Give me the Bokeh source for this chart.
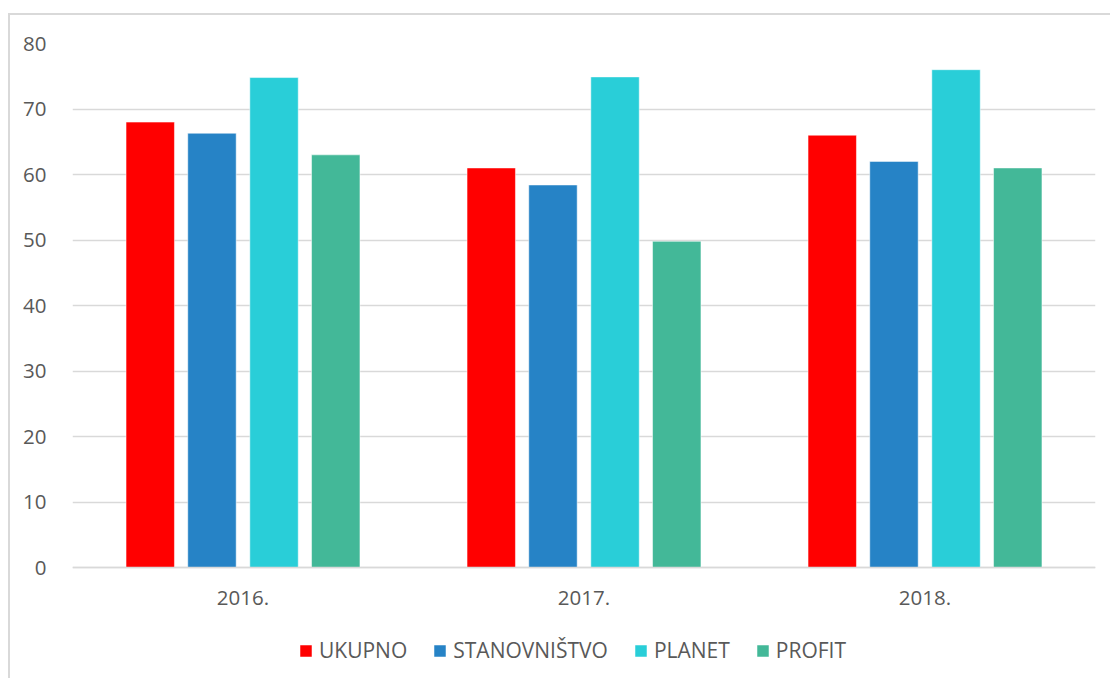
from bokeh.plotting import figure
from bokeh.models import ColumnDataSource, FactorRange, Range1d, Legend, LegendItem
from bokeh.transform import dodge
from bokeh.embed import file_html
from bokeh.resources import INLINE

years = ["2016.", "2017.", "2018."]
series = ["UKUPNO", "STANOVNIŠTVO", "PLANET", "PROFIT"]
ukupno = [68.0, 61.0, 66.0]
stanovnistvo = [66.3, 58.4, 62.0]
planet = [74.8, 74.9, 76.0]
profit = [63.0, 49.8, 61.0]
y_ticks = [0, 10, 20, 30, 40, 50, 60, 70, 80]

colors = ["#FF0000", "#2683C6", "#29CED8", "#43B898"]
offsets = [-0.272, -0.091, 0.091, 0.272]
keys = ["ukupno", "stanovnistvo", "planet", "profit"]

source = ColumnDataSource(data=dict(years=years, ukupno=ukupno,
                                    stanovnistvo=stanovnistvo,
                                    planet=planet, profit=profit))

FONT = "Open Sans"
TXT = "#595959"
GRID = "#d9d9d9"

# layout (pixels)
W, H = 1102, 665
TOP, BOTTOM = 28, 0
frame_h = H - TOP - BOTTOM
px_per_unit = 524 / 80.0
y_start = 80 - frame_h / px_per_unit

p = figure(x_range=FactorRange(*years), y_range=Range1d(y_start, 80),
           width=W, height=H, output_backend="svg",
           toolbar_location=None,
           min_border_left=62, min_border_right=17,
           min_border_top=TOP, min_border_bottom=BOTTOM,
           styles={"margin-top": "13px", "margin-left": "8px",
                   "border-top": "2px solid #d9d9d9",
                   "border-left": "2px solid #d9d9d9"})
p.outline_line_color = None
p.background_fill_color = "white"
p.border_fill_color = "white"

items = []
for k, c, off, name in zip(keys, colors, offsets, series):
    r = p.vbar(x=dodge("years", off, range=p.x_range), top=k, bottom=0,
               width=0.142, source=source, fill_color=c, line_color="white",
               line_alpha=0.5, line_width=1)
    items.append(LegendItem(label=name, renderers=[r]))

# axes
p.yaxis.ticker = y_ticks
p.yaxis.axis_line_color = None
p.yaxis.major_tick_line_color = None
p.yaxis.minor_tick_line_color = None
p.yaxis.major_label_standoff = 20
p.yaxis.major_label_text_font = FONT
p.yaxis.major_label_text_font_size = "20.5px"
p.yaxis.major_label_text_color = TXT

p.xaxis.fixed_location = 0
p.xaxis.axis_line_color = GRID
p.xaxis.axis_line_width = 1.5
p.xaxis.major_tick_line_color = None
p.xaxis.minor_tick_line_color = None
p.xaxis.major_label_standoff = 17
p.xaxis.major_label_text_font = FONT
p.xaxis.major_label_text_font_size = "20.5px"
p.xaxis.major_label_text_color = TXT

p.xgrid.grid_line_color = None
p.ygrid.grid_line_color = GRID
p.ygrid.grid_line_width = 1.5

legend = Legend(items=items, location=(226, 16), orientation="horizontal",
                glyph_width=15, glyph_height=15, label_standoff=6, spacing=25,
                padding=0, margin=0, border_line_color=None,
                background_fill_alpha=0,
                label_text_font=FONT, label_text_font_size="21px",
                label_text_color=TXT)
p.add_layout(legend)

open("out.html", "w").write(file_html(p, INLINE))
